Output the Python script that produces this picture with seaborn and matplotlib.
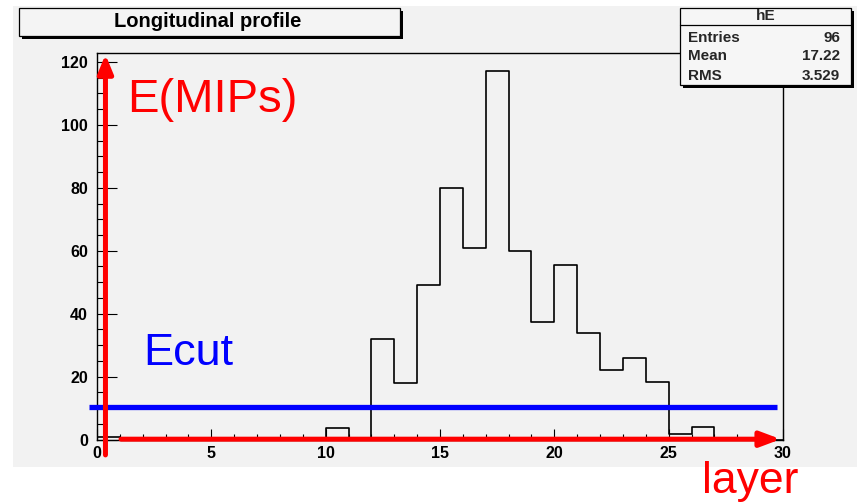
import numpy as np
import pandas as pd
import matplotlib
matplotlib.use("Agg")
import matplotlib.pyplot as plt
from matplotlib.patches import Rectangle
import seaborn as sns

# Longitudinal shower profile: deposited energy (MIPs) per layer
layer = np.arange(30)
energy = [0.9, 0, 0, 0, 0, 0, 0, 0, 0, 0,
          3.8, 0, 32, 18, 49, 80, 61, 117, 60, 37.5,
          55.5, 34, 22, 26, 18.4, 1.9, 4.1, 0, 0, 0]
bin_edges = list(range(0, 31))
ecut = 10.4

x_ticks = [0, 5, 10, 15, 20, 25, 30]
y_ticks = [0, 20, 40, 60, 80, 100, 120]

title = "Longitudinal profile"
stats_name = "hE"
stats_rows = [("Entries", "96"), ("Mean", "17.22"), ("RMS", "3.529")]

sns.set_style("white")
plt.rcParams["font.family"] = ["Liberation Sans", "DejaVu Sans"]

W, H = 857, 504
fig = plt.figure(figsize=(W / 100, H / 100), dpi=100)
fig.patch.set_facecolor("white")

# background canvas layer in pixel coordinates
bg = fig.add_axes([0, 0, 1, 1], zorder=0)
bg.set_xlim(0, W)
bg.set_ylim(H, 0)
bg.axis("off")
bg.add_patch(Rectangle((13, 6), W - 13, 461, facecolor="#f2f2f2", edgecolor="none"))

# main histogram frame
ax = fig.add_axes([97 / W, 1 - 439.5 / H, 686 / W, 386.5 / H], zorder=1)
ax.set_facecolor("none")
df = pd.DataFrame({"layer": layer + 0.5, "energy": energy})
sns.histplot(data=df, x="layer", weights="energy", bins=bin_edges,
             element="step", fill=False, color="black", linewidth=1.2, ax=ax)
ax.set_xlim(0, 30)
ax.set_ylim(0, 122.85)
ax.set_xlabel("")
ax.set_ylabel("")
for s in ax.spines.values():
    s.set_visible(True)
    s.set_color("black")
    s.set_linewidth(1.0)

ax.set_xticks(x_ticks)
ax.set_xticks(np.arange(0, 31, 1), minor=True)
ax.set_yticks(y_ticks)
ax.set_yticks(np.arange(0, 121, 5), minor=True)
ax.tick_params(which="both", bottom=True, left=True, top=False, right=False)
ax.tick_params(axis="x", which="major", direction="in", length=8, width=0.8,
               pad=4.5, labelsize=11.5, colors="black")
ax.tick_params(axis="x", which="minor", direction="in", length=4.3, width=0.8,
               colors="black")
ax.tick_params(axis="y", which="major", direction="in", length=14.5, width=0.8,
               pad=6.5, labelsize=11.5, colors="black")
ax.tick_params(axis="y", which="minor", direction="in", length=7.2, width=0.8,
               colors="black")
for lab in ax.get_xticklabels() + ax.get_yticklabels():
    lab.set_fontweight("bold")

# energy threshold line
ax.plot([-0.35, 29.73], [ecut, ecut], color="#0000ff", lw=3.8,
        solid_capstyle="butt", clip_on=False, zorder=5)

# axis arrows
ax.annotate("", xy=(0.37, 122.4), xytext=(0.37, -4.9),
            arrowprops=dict(arrowstyle="-|>,head_length=1.1,head_width=0.45",
                            mutation_scale=10, lw=3.6, color="red",
                            shrinkA=0, shrinkB=0),
            annotation_clip=False, zorder=6)
ax.annotate("", xy=(29.9, 0.1), xytext=(1.05, 0.1),
            arrowprops=dict(arrowstyle="-|>,head_length=1.2,head_width=0.45",
                            mutation_scale=10, lw=3.6, color="red",
                            shrinkA=0, shrinkB=0),
            annotation_clip=False, zorder=6)

# foreground layer in pixel coordinates: boxes and labels
fg = fig.add_axes([0, 0, 1, 1], zorder=3)
fg.set_facecolor("none")
fg.set_xlim(0, W)
fg.set_ylim(H, 0)
fg.axis("off")

# title box with shadow
fg.add_patch(Rectangle((22, 11), 381, 28, facecolor="black", edgecolor="none"))
fg.add_patch(Rectangle((19, 8), 381, 28, facecolor="#f4f4f4", edgecolor="black", lw=0.9))
fg.text(208, 21.5, title, ha="center", va="center", fontsize=14.5,
        fontweight="bold", color="black")

# statistics box with shadow
fg.add_patch(Rectangle((683, 11), 171, 77, facecolor="black", edgecolor="none"))
fg.add_patch(Rectangle((680, 8), 171, 77, facecolor="#f6f6f6", edgecolor="black", lw=0.9))
fg.plot([680, 851], [25, 25], color="black", lw=0.9)
fg.text(765.5, 16.5, stats_name, ha="center", va="center", fontsize=11,
        fontweight="bold")
for i, (k, v) in enumerate(stats_rows):
    yy = 37.5 + 19 * i
    fg.text(688, yy, k, ha="left", va="center", fontsize=11, fontweight="bold")
    fg.text(840, yy, v, ha="right", va="center", fontsize=11, fontweight="bold")

fg.text(127, 112, "E(MIPs)", color="red", fontsize=34, ha="left", va="baseline")
fg.text(143, 365, "Ecut", color="#0000ff", fontsize=32.5, ha="left", va="baseline")
fg.text(702, 493, "layer", color="red", fontsize=32, ha="left", va="baseline")

fig.savefig("out.png", dpi=100)
